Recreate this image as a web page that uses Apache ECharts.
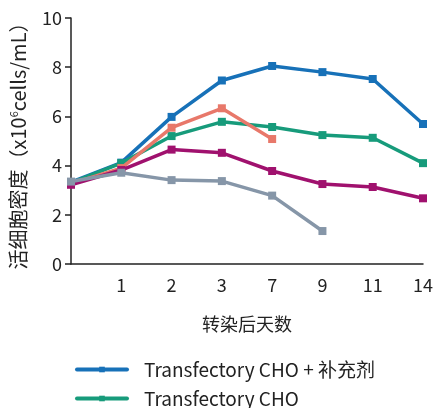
<!DOCTYPE html>
<html>
<head>
<meta charset="utf-8">
<script src="https://cdn.jsdelivr.net/npm/echarts@6/dist/echarts.min.js"></script>
<style>html,body{margin:0;padding:0;background:#fff;}#c{width:436px;height:408px;}</style>
</head>
<body>
<div id="c"></div>
<script>
var days = ['0', '1', '2', '3', '7', '9', '11', '14'];
var yTicks = [0, 2, 4, 6, 8, 10];
var seriesNames = ['Transfectory CHO + 补充剂', 'Transfectory CHO', '竞品 A', '竞品 B', '竞品 C'];
var blueVals = [3.33, 4.12, 5.98, 7.46, 8.05, 7.80, 7.52, 5.69];
var greenVals = [3.30, 4.10, 5.20, 5.78, 5.57, 5.24, 5.13, 4.10];
var salmonVals = [3.27, 3.90, 5.54, 6.33, 5.08, null, null, null];
var purpleVals = [3.22, 3.82, 4.65, 4.52, 3.78, 3.25, 3.13, 2.67];
var grayVals = [3.35, 3.71, 3.41, 3.37, 2.78, 1.34, null, null];
var colors = ['#1771b8', '#179b7b', '#e8786a', '#a0116e', '#8696a8'];

var font = '"Noto Sans CJK SC", "Noto Sans", sans-serif';
var chart = echarts.init(document.getElementById('c'));
function mk(i, vals) {
  return {
    name: seriesNames[i], type: 'line', data: vals,
    symbol: 'rect', symbolSize: 8, showSymbol: true,
    lineStyle: { width: 3.5, color: colors[i], cap: 'round' },
    itemStyle: { color: colors[i] },
    connectNulls: false, animation: false, z: 2 + i
  };
}
chart.setOption({
  animation: false,
  textStyle: { fontFamily: font },
  grid: { left: 62, right: 6, top: 18, bottom: 144, containLabel: false },
  legend: {
    orient: 'vertical', left: 70, top: 355, height: 200,
    itemWidth: 50, itemHeight: 7, itemGap: 10,
    lineStyle: { width: 4, cap: 'round' },
    textStyle: { fontSize: 19, lineHeight: 19, color: '#222', fontFamily: font, padding: [0, 0, 0, 12] },
    data: seriesNames
  },
  xAxis: {
    type: 'category', data: days, boundaryGap: false,
    axisLine: { lineStyle: { color: '#222', width: 1.5 } },
    axisTick: { show: false },
    axisLabel: {
      fontSize: 18, color: '#222', margin: 12, fontFamily: font,
      formatter: function (v, i) { return i === 0 ? '' : v; }
    },
    name: '转染后天数', nameLocation: 'middle', nameGap: 51,
    nameTextStyle: { fontSize: 18, color: '#222', fontFamily: font }
  },
  yAxis: {
    type: 'value', min: yTicks[0], max: yTicks[yTicks.length - 1], interval: 2,
    axisLine: { show: true, lineStyle: { color: '#222', width: 1.5 } },
    axisTick: { show: true, length: 6, lineStyle: { color: '#222', width: 1.5 } },
    splitLine: { show: false },
    axisLabel: { fontSize: 18, color: '#222', margin: 9, fontFamily: font },
    name: '活细胞密度（x10{s|6}cells/mL）', nameLocation: 'middle', nameGap: 43, nameRotate: 90,
    nameTextStyle: {
      fontSize: 20, color: '#222', fontFamily: font,
      rich: { s: { fontSize: 11, verticalAlign: 'top', lineHeight: 12, padding: [0, 0, 9, 0], color: '#222', fontFamily: font } }
    }
  },
  series: [
    mk(0, blueVals), mk(1, greenVals), mk(2, salmonVals), mk(3, purpleVals), mk(4, grayVals)
  ]
});
</script>
</body>
</html>
